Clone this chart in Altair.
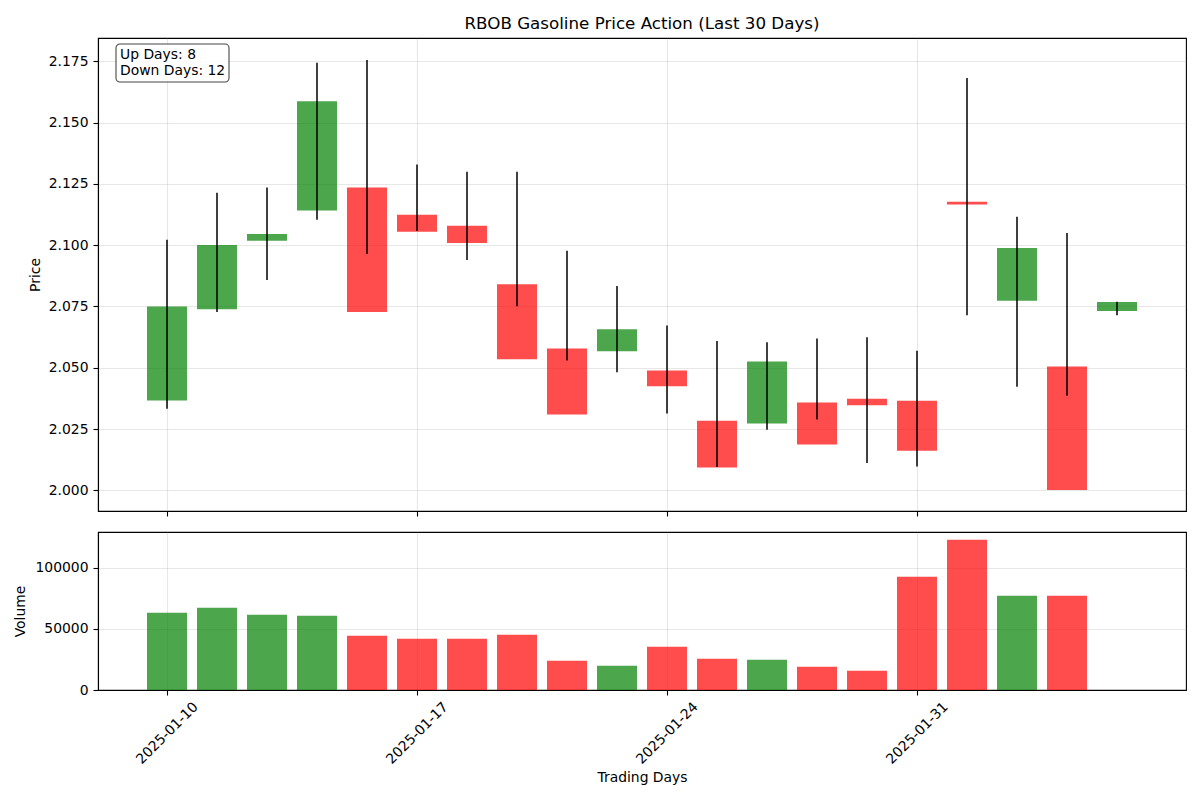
import json
import altair as alt
import pandas as pd

dates = ["2025-01-10", "2025-01-13", "2025-01-14", "2025-01-15", "2025-01-16",
         "2025-01-17", "2025-01-20", "2025-01-21", "2025-01-22", "2025-01-23",
         "2025-01-24", "2025-01-27", "2025-01-28", "2025-01-29", "2025-01-30",
         "2025-01-31", "2025-02-03", "2025-02-04", "2025-02-05", "2025-02-06"]
opens = [2.0367, 2.0739, 2.1018, 2.1141, 2.1235, 2.1124, 2.1079, 2.0841, 2.0579, 2.0568,
         2.0489, 2.0284, 2.0273, 2.0358, 2.0374, 2.0366, 2.1177, 2.0773, 2.0505, 2.0732]
closes = [2.0750, 2.1001, 2.1046, 2.1587, 2.0728, 2.1055, 2.1009, 2.0535, 2.0310, 2.0657,
          2.0425, 2.0093, 2.0526, 2.0187, 2.0347, 2.0162, 2.1166, 2.0989, 2.0002, 2.0768]
highs = [2.1022, 2.1214, 2.1235, 2.1744, 2.1755, 2.1329, 2.1300, 2.1300, 2.0977, 2.0834,
         2.0673, 2.0609, 2.0604, 2.0620, 2.0625, 2.0570, 2.1682, 2.1116, 2.1050, 2.0769]
lows = [2.0333, 2.0728, 2.0858, 2.1104, 2.0964, 2.1058, 2.0940, 2.0751, 2.0530, 2.0482,
        2.0314, 2.0095, 2.0247, 2.0289, 2.0112, 2.0097, 2.0714, 2.0423, 2.0386, 2.0714]
volumes = [63400, 67500, 61700, 60900, 44500, 42000, 42000, 45300, 24000, 19900,
           35500, 25700, 24800, 19100, 15800, 92900, 123200, 77300, 77300, None]

n = len(dates)
df = pd.DataFrame({
    "idx": list(range(n)),
    "date": dates,
    "open": opens,
    "close": closes,
    "high": highs,
    "low": lows,
    "volume": volumes,
})
df["dir"] = ["up" if c >= o else "down" for o, c in zip(opens, closes)]
up_days = sum(1 for o, c in zip(opens, closes) if c > o)
down_days = sum(1 for o, c in zip(opens, closes) if c < o)

FONT = "DejaVu Sans"
W = 1088
x_domain = [-1.38, n - 1 + 1.38]
label_expr = json.dumps(dates) + "[datum.value]"
color_scale = alt.Scale(domain=["up", "down"], range=["#008000", "#ff0000"])

base = alt.Chart(df).transform_calculate(
    xl="datum.idx - 0.4", xr="datum.idx + 0.4"
)

x_top = alt.X("xl:Q", scale=alt.Scale(domain=x_domain, nice=False, zero=False),
              axis=alt.Axis(values=[0, 5, 10, 15], labels=False, title=None,
                            ticks=True, grid=True))

bodies = base.mark_bar(opacity=0.7).encode(
    x=x_top,
    x2="xr:Q",
    y=alt.Y("open:Q",
            scale=alt.Scale(domain=[1.9916, 2.1845], nice=False, zero=False),
            axis=alt.Axis(values=[2.000, 2.025, 2.050, 2.075, 2.100, 2.125, 2.150, 2.175],
                          format=".3f", title="Price", titlePadding=6)),
    y2="close:Q",
    color=alt.Color("dir:N", scale=color_scale, legend=None),
)

wicks = base.mark_rule(color="black", strokeWidth=1.5).encode(
    x="idx:Q",
    y="low:Q",
    y2="high:Q",
)

info = pd.DataFrame({"label": [f"Up Days: {up_days}\nDown Days: {down_days}"]})
box = alt.Chart(info).mark_rect(
    fill="white", stroke="#333333", strokeWidth=1.1, cornerRadius=4, opacity=0.9
).encode(x=alt.value(18), x2=alt.value(131), y=alt.value(6), y2=alt.value(44))
box_text = alt.Chart(info).mark_text(
    align="left", baseline="alphabetic", lineBreak="\n", lineHeight=16,
    font=FONT, fontSize=13.9, color="black"
).encode(x=alt.value(22), y=alt.value(21), text="label:N")

top = alt.layer(bodies, wicks, box, box_text).properties(
    width=W, height=473,
    title=alt.TitleParams("RBOB Gasoline Price Action (Last 30 Days)",
                          fontSize=16.7, fontWeight="normal", font=FONT,
                          anchor="middle", frame="group", offset=5, color="black"),
)

vol = base.mark_bar(opacity=0.7).encode(
    x=alt.X("xl:Q", scale=alt.Scale(domain=x_domain, nice=False, zero=False),
            axis=alt.Axis(values=[0, 5, 10, 15], labelExpr=label_expr,
                          labelAngle=-45, labelAlign="center", labelBaseline="middle",
                          labelPadding=38, labelFlush=False, labelOverlap=False,
                          title="Trading Days", titlePadding=4, grid=True)),
    x2="xr:Q",
    y=alt.Y("volume:Q", scale=alt.Scale(domain=[0, 129500], nice=False),
            axis=alt.Axis(values=[0, 50000, 100000], format="d", title="Volume",
                          titlePadding=7)),
    y2=alt.datum(0),
    color=alt.Color("dir:N", scale=color_scale, legend=None),
).properties(width=W, height=158)

chart = alt.vconcat(top, vol, spacing=21, bounds="flush").configure(
    font=FONT, padding={"left": 5, "right": 5, "top": 7, "bottom": 5}
).configure_view(
    stroke="black", strokeWidth=1.1
).configure_axis(
    labelFont=FONT, titleFont=FONT, labelFontSize=13.9, titleFontSize=13.9,
    titleFontWeight="normal", labelColor="black", titleColor="black",
    domainColor="black", domainWidth=1.1, tickColor="black", tickWidth=1.1,
    tickSize=5, labelPadding=5, gridColor="#b0b0b0", gridOpacity=0.3,
    gridWidth=1.1,
)

chart.save("out.html", embed_options={"renderer": "svg", "actions": False})
